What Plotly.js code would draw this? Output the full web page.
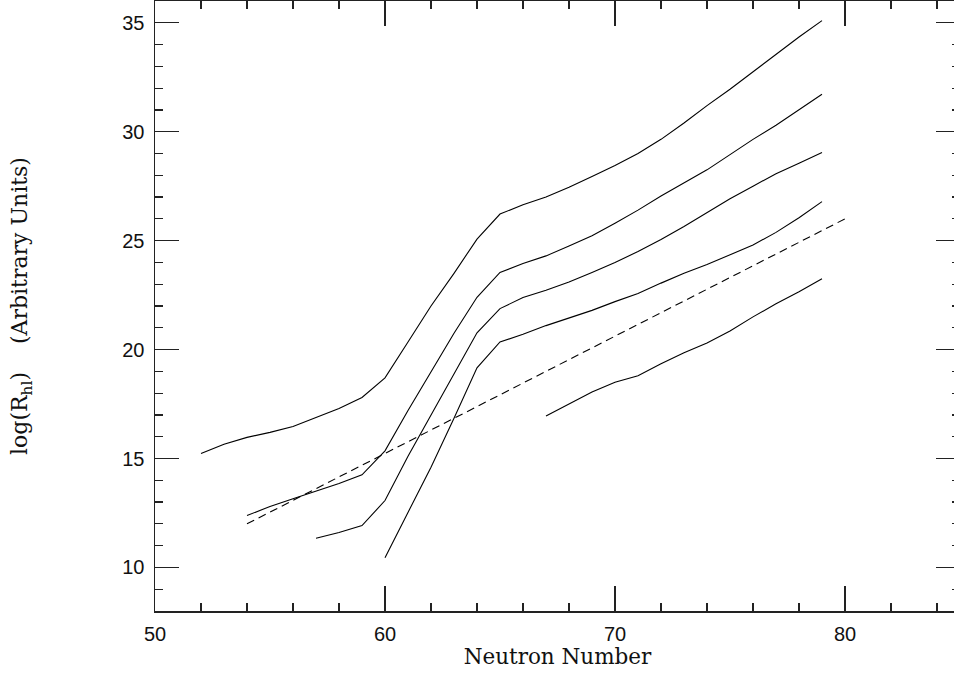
<!DOCTYPE html>
<html>
<head>
<meta charset="utf-8">
<script src="https://cdn.plot.ly/plotly-3.0.1.min.js"></script>
<style>
html,body{margin:0;padding:0;overflow:hidden;background:#fff;}
#plot{width:960px;height:678px;}
</style>
</head>
<body>
<div id="plot"></div>
<script>
// Neutron numbers and log(R_hl) values for each curve
const n1 = [52,53,54,55,56,57,58,59,60,61,62,63,64,65,66,67,68,69,70,71,72,73,74,75,76,77,78,79];
const r1 = [15.23,15.65,15.97,16.2,16.47,16.9,17.3,17.8,18.7,20.35,22.0,23.5,25.07,26.22,26.65,27.0,27.45,27.95,28.45,29.0,29.65,30.4,31.2,31.95,32.75,33.55,34.35,35.1];

const n2 = [54,55,56,57,58,59,60,61,62,63,64,65,66,67,68,69,70,71,72,73,74,75,76,77,78,79];
const r2 = [12.38,12.8,13.15,13.5,13.85,14.25,15.35,17.2,19.0,20.75,22.4,23.54,23.95,24.3,24.75,25.22,25.8,26.4,27.05,27.65,28.25,28.95,29.65,30.3,31.0,31.72];

const n3 = [57,58,59,60,61,62,63,64,65,66,67,68,69,70,71,72,73,74,75,76,77,78,79];
const r3 = [11.34,11.6,11.92,13.07,15.1,17.0,18.9,20.77,21.88,22.39,22.72,23.1,23.54,24.0,24.5,25.05,25.65,26.3,26.92,27.5,28.07,28.55,29.05];

const n4 = [60,61,62,63,64,65,66,67,68,69,70,71,72,73,74,75,76,77,78,79];
const r4 = [10.45,12.5,14.6,16.85,19.16,20.35,20.7,21.1,21.45,21.8,22.2,22.57,23.05,23.5,23.9,24.35,24.8,25.38,26.05,26.79];

const n5 = [67,68,69,70,71,72,73,74,75,76,77,78,79];
const r5 = [16.95,17.5,18.05,18.5,18.8,19.35,19.85,20.3,20.85,21.5,22.1,22.65,23.25];

const nDash = [54,80];
const rDash = [12,26];

const solid = {color:'#000', width:1.1};
const traces = [
  {x:n1, y:r1, mode:'lines', line:solid},
  {x:n2, y:r2, mode:'lines', line:solid},
  {x:n3, y:r3, mode:'lines', line:solid},
  {x:n4, y:r4, mode:'lines', line:solid},
  {x:n5, y:r5, mode:'lines', line:solid},
  {x:nDash, y:rDash, mode:'lines', line:{color:'#000', width:1.1, dash:'8px,5px'}}
];

const axisCommon = {
  showgrid:false, zeroline:false, showline:true, linecolor:'#222', linewidth:1.5,
  mirror:'allticks', ticks:'inside', tickcolor:'#222', tickwidth:1.2,
  tickfont:{family:'Liberation Sans, Arial, sans-serif', size:20, color:'#111'}
};

const layout = {
  width:960, height:678,
  margin:{l:155, r:0, t:1, b:67},
  paper_bgcolor:'#fff', plot_bgcolor:'#fff',
  showlegend:false,
  xaxis: Object.assign({}, axisCommon, {
    range:[50,85], dtick:10, tick0:50, ticklen:25, ticklabelstandoff:4,
    minor:{dtick:2, tick0:50, ticklen:8, ticks:'inside', tickcolor:'#222', tickwidth:1.2, showgrid:false},
    title:{text:'Neutron Number', font:{family:'DejaVu Serif, serif', size:21.5, color:'#111'}, standoff:5}
  }),
  yaxis: Object.assign({}, axisCommon, {
    range:[8,36], dtick:5, tick0:0, ticklen:24, ticklabelstandoff:5,
    minor:{dtick:1, tick0:0, ticklen:8, ticks:'inside', tickcolor:'#222', tickwidth:1.2, showgrid:false},
    title:{text:'log(R<sub>hl</sub>)&nbsp;&nbsp;&nbsp;&nbsp;(Arbitrary Units)', font:{family:'DejaVu Serif, serif', size:22, color:'#111'}, standoff:88}
  })
};

Plotly.newPlot('plot', traces, layout, {displayModeBar:false, staticPlot:true});
</script>
</body>
</html>
